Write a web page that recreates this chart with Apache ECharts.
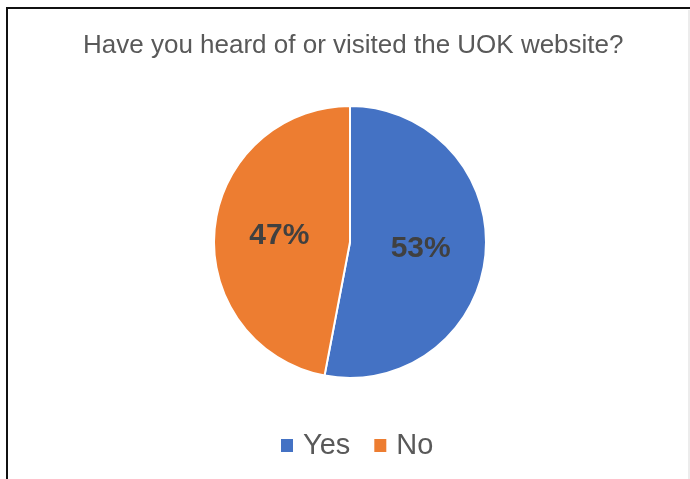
<!DOCTYPE html>
<html>
<head>
<meta charset="utf-8">
<style>
  html, body { margin: 0; padding: 0; background: #ffffff; }
  #chart { width: 690px; height: 479px; }
</style>
<script src="https://cdn.jsdelivr.net/npm/echarts@6/dist/echarts.min.js"></script>
</head>
<body>
<div id="chart"></div>
<script>
// Survey answers and their shares (percent)
const titleText = 'Have you heard of or visited the UOK website?';
const categories = ['Yes', 'No'];
const shares = [53, 47];
const colors = ['#4472C4', '#ED7D31'];

const chart = echarts.init(document.getElementById('chart'), null, { renderer: 'canvas' });

chart.setOption({
  backgroundColor: '#ffffff',
  animation: false,
  color: colors,
  title: {
    text: titleText,
    left: 78,
    top: 28,
    textStyle: {
      fontFamily: 'Liberation Sans, sans-serif',
      fontSize: 26,
      fontWeight: 'normal',
      color: '#595959'
    }
  },
  legend: {
    bottom: 14,
    left: 274,
    icon: 'rect',
    itemWidth: 14,
    itemHeight: 15,
    itemGap: 22,
    textStyle: {
      fontFamily: 'Liberation Sans, sans-serif',
      fontSize: 29,
      color: '#595959',
      padding: [0, 0, 0, 4]
    },
    data: categories
  },
  graphic: [
    {
      type: 'rect',
      shape: { x: 7, y: 8, width: 700, height: 500 },
      style: { fill: 'none', stroke: '#111111', lineWidth: 2 },
      silent: true
    },
    {
      type: 'line',
      shape: { x1: 689, y1: 10, x2: 689, y2: 479 },
      style: { stroke: '#d9d9d9', lineWidth: 1 },
      silent: true
    }
  ],
  series: [{
    type: 'pie',
    center: [350, 242],
    radius: 136,
    startAngle: 90,
    clockwise: true,
    label: {
      show: true,
      position: 'inside',
      formatter: '{c}%',
      fontFamily: 'Liberation Sans, sans-serif',
      fontWeight: 'bold',
      fontSize: 30,
      color: '#404040'
    },
    labelLine: { show: false },
    itemStyle: { borderColor: '#ffffff', borderWidth: 2 },
    emphasis: { disabled: true },
    data: categories.map((name, i) => ({ name, value: shares[i] }))
  }]
});
</script>
</body>
</html>
